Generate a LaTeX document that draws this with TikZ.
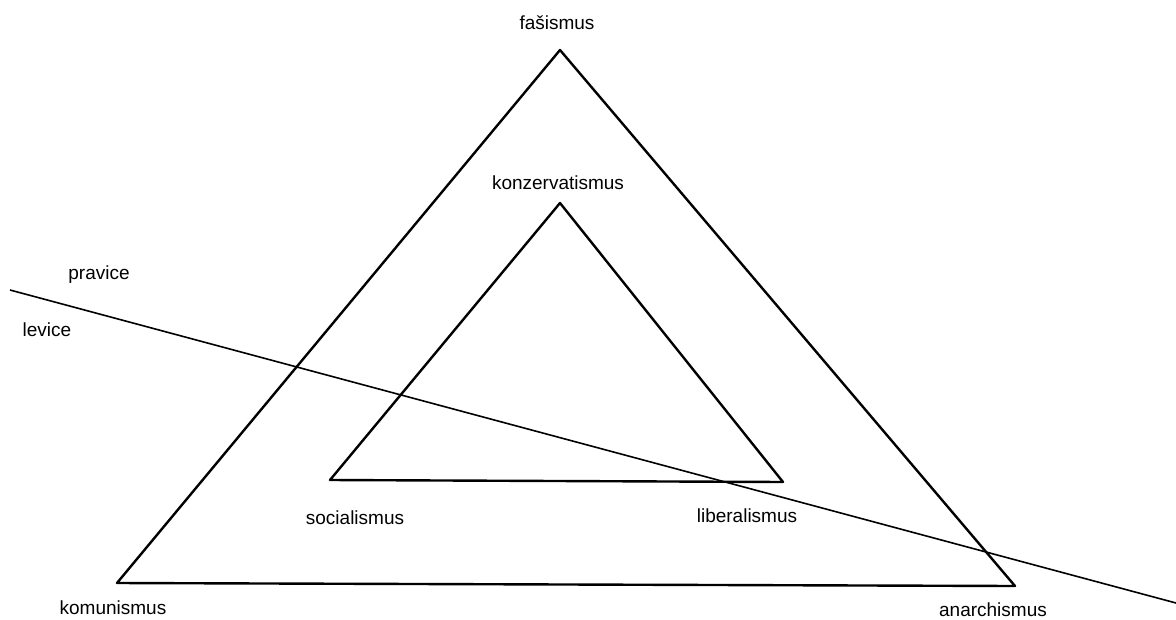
\documentclass[tikz,border=0pt]{standalone}
\usepackage{fontspec}
\setmainfont{Liberation Sans}
\tikzset{every picture/.style={line width=0.75pt}}
\tikzset{lbl/.style={inner sep=0.75pt, font=\fontsize{19}{22}\selectfont}}

\begin{document}
\begin{tikzpicture}[x=1pt,y=1pt,yscale=-1]
\useasboundingbox (0,0) rectangle (1176,619);

%Triangle corners
\coordinate (fas) at (560,50);
\coordinate (kom) at (117,583);
\coordinate (ana) at (1015,586);
\coordinate (kon) at (560,203);
\coordinate (soc) at (330,480);
\coordinate (lib) at (783,482);
\coordinate (cutA) at (10,290);
\coordinate (cutB) at (1176,603);

%Outer triangle
\draw [line width=2.4pt, line join=round] (fas) -- (ana) -- (kom) -- cycle;
%Inner triangle
\draw [line width=2.4pt, line join=round] (kon) -- (lib) -- (soc) -- cycle;
%Straight Lines
\draw [line width=1.6pt] (cutA) -- (cutB);

% Text Node
\node [lbl] (tfas) at (557,23) {fašismus};
% Text Node
\node [lbl] (tkon) at (558,183) {konzervatismus};
% Text Node
\node [lbl] (tpra) at (99,275) {pravice};
% Text Node
\node [lbl] (tlev) at (47,330) {levice};
% Text Node
\node [lbl] (tsoc) at (355,518) {socialismus};
% Text Node
\node [lbl] (tlib) at (747,516) {liberalismus};
% Text Node
\node [lbl] (tkom) at (113,608) {komunismus};
% Text Node
\node [lbl] (tana) at (993,610) {anarchismus};

\end{tikzpicture}
\end{document}
